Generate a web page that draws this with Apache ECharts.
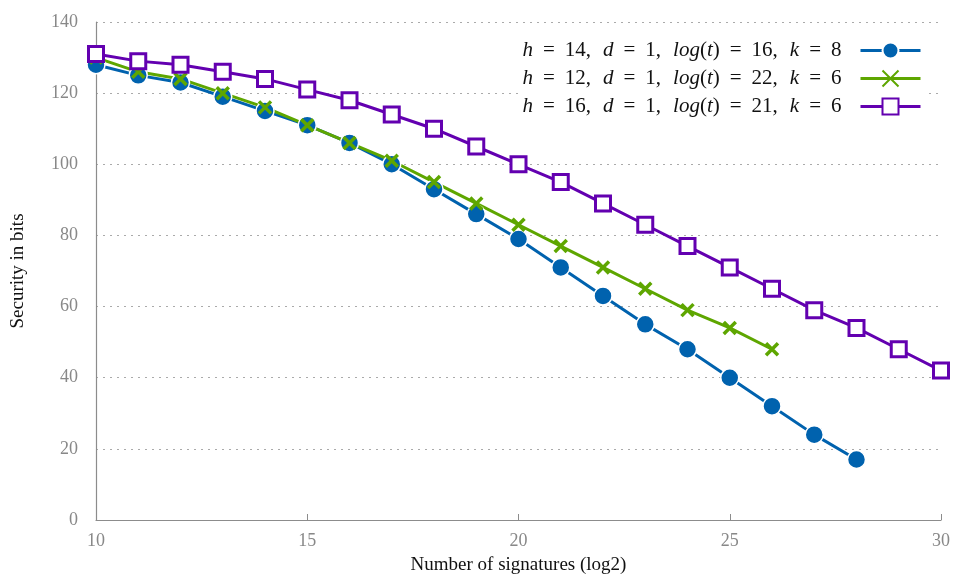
<!DOCTYPE html>
<html>
<head>
<meta charset="utf-8">
<script src="https://cdn.jsdelivr.net/npm/echarts@6.0.0/dist/echarts.min.js"></script>
<style>
  html, body { margin: 0; padding: 0; background: #fff; }
  #main { width: 957px; height: 583px; }
</style>
</head>
<body>
<div id="main"></div>
<script>
// x = log2 of number of signatures
var xBlue = [10, 11, 12, 13, 14, 15, 16, 17, 18, 19, 20, 21, 22, 23, 24, 25, 26, 27, 28];
var blueVals = [128, 125, 123, 119, 115, 111, 106, 100, 93, 86, 79, 71, 63, 55, 48, 40, 32, 24, 17];
var xGreen = [10, 11, 12, 13, 14, 15, 16, 17, 18, 19, 20, 21, 22, 23, 24, 25, 26];
var greenVals = [130, 126, 124, 120, 116, 111, 106, 101, 95, 89, 83, 77, 71, 65, 59, 54, 48];
var xPurple = [10, 11, 12, 13, 14, 15, 16, 17, 18, 19, 20, 21, 22, 23, 24, 25, 26, 27, 28, 29, 30];
var purpleVals = [131, 129, 128, 126, 124, 121, 118, 114, 110, 105, 100, 95, 89, 83, 77, 71, 65, 59, 54, 48, 42];
var seriesNames = [
  'h = 14, d = 1, log(t) = 16, k = 8',
  'h = 12, d = 1, log(t) = 22, k = 6',
  'h = 16, d = 1, log(t) = 21, k = 6'
];
var legendRich = [
  '{i|h}{e|=}14{c|,}{i|d}{e|=}1{c|,}{i|log}({i|t}){e|=}16{c|,}{i|k}{e|=}{l|8}',
  '{i|h}{e|=}12{c|,}{i|d}{e|=}1{c|,}{i|log}({i|t}){e|=}22{c|,}{i|k}{e|=}{l|6}',
  '{i|h}{e|=}16{c|,}{i|d}{e|=}1{c|,}{i|log}({i|t}){e|=}21{c|,}{i|k}{e|=}{l|6}'
];

function pairs(xs, ys) {
  return xs.map(function (x, i) { return [x, ys[i]]; });
}

var FONT = '"Liberation Serif", "DejaVu Serif", serif';
var BLUE = '#0062ae', GREEN = '#5ea600', PURPLE = '#6300b0';
var txt = { fontFamily: FONT, fontSize: 21, color: '#111', lineHeight: 23 };

var chart = echarts.init(document.getElementById('main'));
chart.setOption({
  animation: false,
  textStyle: { fontFamily: FONT },
  grid: { left: 96, right: 16, top: 22, bottom: 63 },
  legend: {
    orient: 'vertical',
    right: 31,
    top: 37,
    align: 'right',
    itemWidth: 60,
    itemHeight: 20,
    itemGap: 5,
    backgroundColor: '#fff',
    padding: [2, 4, 2, 4],
    data: seriesNames,
    lineStyle: { width: 3 },
    formatter: function (name) { return legendRich[seriesNames.indexOf(name)]; },
    textStyle: Object.assign({}, txt, {
      rich: {
        i: Object.assign({}, txt, { fontStyle: 'italic' }),
        e: Object.assign({}, txt, { padding: [0, 10, 0, 10] }),
        c: Object.assign({}, txt, { padding: [0, 12, 0, 0] }),
        l: Object.assign({}, txt, { padding: [0, 14, 0, 0] })
      }
    })
  },
  xAxis: {
    type: 'value', min: 10, max: 30, interval: 5,
    name: 'Number of signatures (log2)', nameLocation: 'middle', nameGap: 36,
    nameTextStyle: { fontFamily: FONT, fontSize: 19, color: '#111' },
    axisLine: { lineStyle: { color: '#8c8c8c', width: 1.2 } },
    axisTick: { inside: true, length: 6, lineStyle: { color: '#8c8c8c' } },
    axisLabel: { fontFamily: FONT, fontSize: 18, color: '#888', margin: 12 },
    splitLine: { show: false }
  },
  yAxis: {
    type: 'value', min: 0, max: 140, interval: 20,
    name: 'Security in bits', nameLocation: 'middle', nameGap: 68,
    nameTextStyle: { fontFamily: FONT, fontSize: 19, color: '#111' },
    axisLine: { show: true, lineStyle: { color: '#8c8c8c', width: 1.2 } },
    axisTick: { show: false },
    axisLabel: { fontFamily: FONT, fontSize: 18, color: '#888', margin: 18 },
    splitLine: { show: true, lineStyle: { color: '#aaa', type: [2, 5], width: 1.2 } }
  },
  series: [
    {
      name: seriesNames[0], type: 'line', data: pairs(xBlue, blueVals),
      symbol: 'circle', symbolSize: 18,
      lineStyle: { color: BLUE, width: 3 },
      itemStyle: { color: BLUE, borderColor: '#fff', borderWidth: 1.5 }
    },
    {
      name: seriesNames[1], type: 'line', data: pairs(xGreen, greenVals),
      symbol: 'path://M0,0L10,10M10,0L0,10', symbolSize: 12,
      lineStyle: { color: GREEN, width: 3 },
      itemStyle: { color: GREEN, borderColor: GREEN, borderWidth: 3.5 }
    },
    {
      name: seriesNames[2], type: 'line', data: pairs(xPurple, purpleVals),
      symbol: 'rect', symbolSize: 15,
      lineStyle: { color: PURPLE, width: 3 },
      itemStyle: { color: '#fff', borderColor: PURPLE, borderWidth: 3 }
    }
  ]
});
</script>
</body>
</html>
